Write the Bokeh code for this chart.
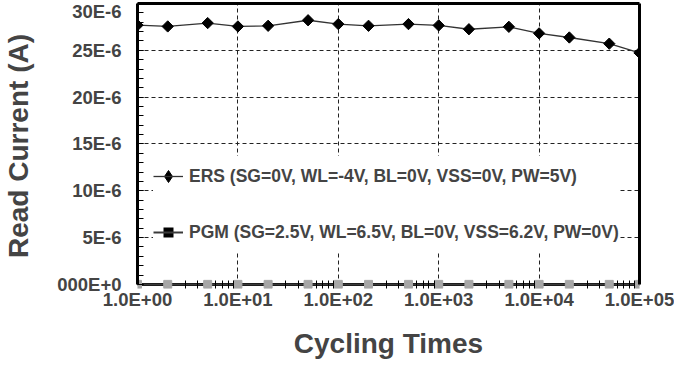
from bokeh.plotting import figure
from bokeh.models import FixedTicker, Range1d, LinearAxis, Span, Legend, LegendItem
from bokeh.embed import file_html
from bokeh.resources import INLINE

cycles = [1, 2, 5, 10, 20, 50, 100, 200, 500, 1000, 2000, 5000, 10000, 20000, 50000, 100000]
ers_current = [27.69e-6, 27.55e-6, 27.91e-6, 27.55e-6, 27.62e-6, 28.21e-6, 27.80e-6, 27.62e-6,
               27.80e-6, 27.66e-6, 27.25e-6, 27.51e-6, 26.81e-6, 26.37e-6, 25.71e-6, 24.73e-6]
pgm_current = [0.0] * 16

x_ticks = [1, 10, 100, 1000, 10000, 100000]
x_tick_labels = ["1.0E+00", "1.0E+01", "1.0E+02", "1.0E+03", "1.0E+04", "1.0E+05"]
y_ticks = [0.0, 5e-6, 10e-6, 15e-6, 20e-6, 25e-6, 30e-6]
y_tick_labels = ["000E+0", "5E-6", "10E-6", "15E-6", "20E-6", "25E-6", "30E-6"]

ers_label = "ERS (SG=0V, WL=-4V, BL=0V, VSS=0V, PW=5V)"
pgm_label = "PGM (SG=2.5V, WL=6.5V, BL=0V, VSS=6.2V, PW=0V)"
x_title = "Cycling Times"
y_title = "Read Current (A)"

FONT = "Liberation Sans"

p = figure(width=674, height=361, x_axis_type="log", output_backend="svg",
           toolbar_location=None, x_range=Range1d(x_ticks[0], x_ticks[-1]),
           y_range=Range1d(-0.44e-6, y_ticks[-1]),
           min_border_left=130, min_border_right=35, min_border_top=3, min_border_bottom=71)

p.outline_line_color = None
p.background_fill_color = "white"
p.border_fill_color = "white"

# grids
for g in (p.xgrid, p.ygrid):
    g.grid_line_color = "#222222"
    g.grid_line_dash = "4 3"
    g.grid_line_width = 1
p.xgrid.grid_line_dash_offset = 4

# x axis (labels + small minor ticks; its line is drawn at y = 0 below)
xa = p.xaxis[0]
minor_x = [m * t for t in x_ticks[:-1] for m in (3, 4, 6, 7, 8, 9)]
xa.ticker = FixedTicker(ticks=x_ticks, minor_ticks=minor_x)
xa.major_label_overrides = {float(t): l for t, l in zip(x_ticks, x_tick_labels)}
xa.axis_line_color = None
xa.major_tick_line_color = None
xa.minor_tick_line_color = "black"
xa.major_tick_in = 0
xa.major_tick_out = 0
xa.minor_tick_in = 8
xa.minor_tick_out = 0
xa.major_label_text_font = FONT
xa.major_label_text_font_style = "bold"
xa.major_label_text_font_size = "18.5px"
xa.major_label_standoff = 0
xa.axis_label = x_title
xa.axis_label_text_font = FONT
xa.axis_label_text_font_style = "bold"
xa.axis_label_text_font_size = "28px"
xa.axis_label_standoff = 15

zero_line = Span(location=y_ticks[0], dimension="width", line_color="black",
                 line_width=3, level="underlay")
p.add_layout(zero_line)

# y axis
ya = p.yaxis[0]
minor_y = [i * 1e-6 for i in range(31)]
ya.ticker = FixedTicker(ticks=y_ticks, minor_ticks=minor_y)
ya.major_label_overrides = {float(t): l for t, l in zip(y_ticks, y_tick_labels)}
ya.bounds = (y_ticks[0], y_ticks[-1])
ya.axis_line_color = "black"
ya.axis_line_width = 3
ya.major_tick_in = 6
ya.major_tick_out = 0
ya.minor_tick_in = 6
ya.minor_tick_out = 0
ya.major_label_text_font = FONT
ya.major_label_text_font_style = "bold"
ya.major_label_text_font_size = "18.5px"
ya.major_label_standoff = 16
ya.axis_label = y_title
ya.axis_label_text_font = FONT
ya.axis_label_text_font_style = "bold"
ya.axis_label_text_font_size = "28px"
ya.axis_label_standoff = 20

# top and right frame lines (no ticks, no labels)
top_ax = LinearAxis(ticker=FixedTicker(ticks=[]), major_tick_in=0, major_tick_out=0,
                    axis_line_color="black", axis_line_width=3)
right_ax = LinearAxis(ticker=FixedTicker(ticks=[]), major_tick_in=0, major_tick_out=0,
                      axis_line_color="black", axis_line_width=3,
                      bounds=(y_ticks[0], y_ticks[-1]))
p.add_layout(top_ax, "above")
p.add_layout(right_ax, "right")

# series
ers_line = p.line(cycles, ers_current, line_color="#333333", line_width=1.3)
p.scatter(cycles, ers_current, marker="square", angle=0.7853981634, size=8,
          fill_color="black", line_color="black")
pgm_line = p.line(cycles, pgm_current, line_color="#3a3a3a", line_width=2)
p.scatter(cycles, pgm_current, marker="square", size=8,
          fill_color="#a6a6a6", line_color="#a6a6a6")

# legend keys (hidden renderers of the same series, drawn only in the legend)
ers_key = p.scatter(cycles, ers_current, marker="diamond", fill_color="black",
                    line_color="black", visible=False)
pgm_key = p.scatter(cycles, pgm_current, marker="square", fill_color="black",
                    line_color="white", line_width=2, visible=False)

legend = Legend(items=[LegendItem(label=ers_label, renderers=[ers_key, ers_line]),
                       LegendItem(label=pgm_label, renderers=[pgm_key, pgm_line])],
                location=(16, 36))
legend.glyph_width = 30
legend.glyph_height = 40
legend.label_height = 40
legend.label_standoff = 6
legend.padding = 10
legend.margin = 0
legend.spacing = 16
legend.border_line_color = None
legend.background_fill_color = "white"
legend.background_fill_alpha = 1
legend.inactive_fill_alpha = 0
legend.label_text_font = FONT
legend.label_text_font_style = "bold"
legend.label_text_font_size = "17.5px"
p.add_layout(legend, "center")

open("out.html", "w").write(file_html(p, INLINE))
